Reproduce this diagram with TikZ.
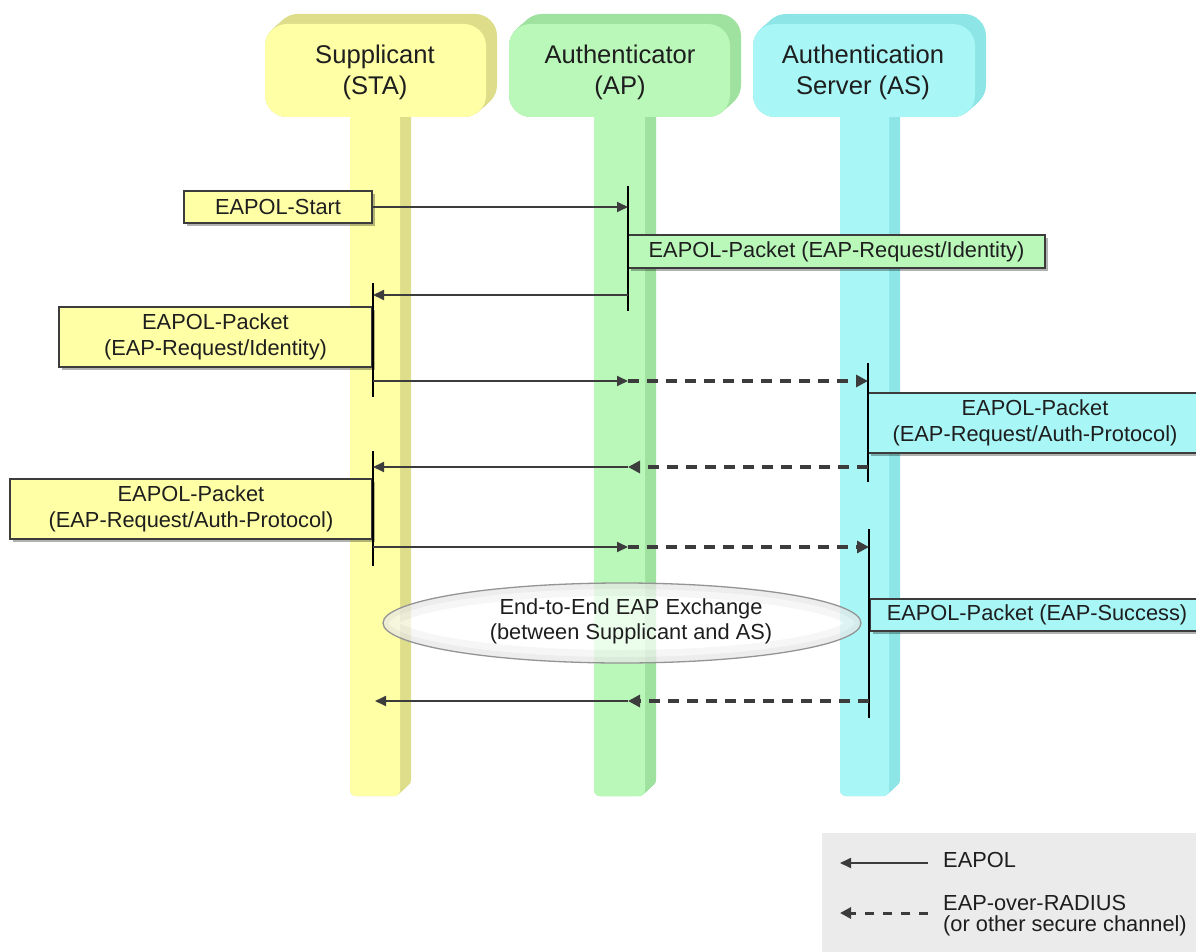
\documentclass[tikz,border=0pt]{standalone}
\usepackage{fontspec}
\setmainfont{Liberation Sans}
\usetikzlibrary{arrows.meta,shapes.geometric,shadows}
\definecolor{yface}{HTML}{FFFFA6}
\definecolor{ydark}{HTML}{DDDD8A}
\definecolor{gface}{HTML}{BAF8BA}
\definecolor{gdark}{HTML}{9FE19F}
\definecolor{cface}{HTML}{A8F6F6}
\definecolor{cdark}{HTML}{8DE5E5}
\definecolor{lgray}{HTML}{EBEBEB}
\definecolor{ink}{HTML}{1E1E1E}
\definecolor{lineC}{HTML}{3C3C3C}
\begin{document}
\begin{tikzpicture}[x=1pt,y=-1pt,
  hdr/.style={align=center, font=\fontsize{25.6}{31}\selectfont, text=ink, inner sep=0pt},
  msgbox/.style={draw=lineC, line width=1.5pt, font=\fontsize{21.8}{26}\selectfont, text=ink,
    align=center, inner sep=0pt,
    drop shadow={shadow xshift=3pt, shadow yshift=-3pt, opacity=0.3, fill=black}},
  sline/.style={draw=lineC, line width=1.8pt, -{Triangle[length=11pt,width=10pt]}},
  dline/.style={draw=lineC, line width=3.2pt, dash pattern=on 11pt off 8pt, -{Triangle[length=12pt,width=12pt]}},
  legdash/.style={draw=lineC, line width=3pt, dash pattern=on 9pt off 9pt, -{Triangle[length=11pt,width=11pt]}},
  tickline/.style={draw=black, line width=2pt},
  legtext/.style={font=\fontsize{21.8}{21}\selectfont, text=ink, inner sep=0pt, align=left},
  e2etext/.style={font=\fontsize{21.8}{25}\selectfont, text=ink, inner sep=0pt, align=center}
]
\useasboundingbox (0,0) rectangle (1196,952);
\fill[white] (0,0) rectangle (1196,952);

% ---- extruded (dark) sides of headers and lifelines
\foreach \s in {0,0.5,...,11} {
  \begin{scope}[shift={({\s},{-\s*10/11})}]
    \fill[ydark, rounded corners=22pt] (265,24) rectangle (486,117);
    \fill[ydark, rounded corners=6pt] (350,100) rectangle (400,796);
    \fill[gdark, rounded corners=22pt] (509,24) rectangle (730,117);
    \fill[gdark, rounded corners=6pt] (594,100) rectangle (645,796);
    \fill[cdark, rounded corners=22pt] (753,24) rectangle (975,117);
    \fill[cdark, rounded corners=6pt] (840,100) rectangle (889,796);
  \end{scope}
}
% ---- faces
\fill[yface, rounded corners=6pt] (350,100) rectangle (400,796);
\fill[gface, rounded corners=6pt] (594,100) rectangle (645,796);
\fill[cface, rounded corners=6pt] (840,100) rectangle (889,796);
\fill[yface, rounded corners=22pt] (265,24) rectangle (486,117);
\fill[gface, rounded corners=22pt] (509,24) rectangle (730,117);
\fill[cface, rounded corners=22pt] (753,24) rectangle (975,117);

\node[hdr] (sta) at (375,72) {Supplicant\\(STA)};
\node[hdr] (ap) at (620,72) {Authenticator\\(AP)};
\node[hdr] (as) at (863,72) {Authentication\\Server (AS)};

% ---- end-to-end ellipse
\node[ellipse, fill=white, fill opacity=0.72, inner sep=0pt, minimum width=478pt, minimum height=80pt] (e2e) at (622,623) {};
\begin{scope}
  \clip (e2e.center) ellipse (239 and 40);
  \draw[black, opacity=0.035, line width=26pt] (e2e.center) ellipse (239 and 40);
  \draw[black, opacity=0.035, line width=12pt] (e2e.center) ellipse (239 and 40);
\end{scope}
\draw[black!42, line width=1.3pt] (e2e.center) ellipse (239 and 40);
\node[e2etext] (e2elabel) at (631,621) {End-to-End EAP Exchange\\(between Supplicant and AS)};

% ---- message boxes
\node[msgbox, fill=yface, minimum width=188pt, minimum height=32pt] (start) at (278,207) {EAPOL-Start};
\node[msgbox, fill=gface, minimum width=417pt, minimum height=33pt] (reqidAP) at (836.5,251.5) {EAPOL-Packet (EAP-Request/Identity)};
\node[msgbox, fill=yface, minimum width=313pt, minimum height=60pt] (reqidSTA) at (215.5,337) {EAPOL-Packet\\(EAP-Request/Identity)};
\node[msgbox, fill=cface, minimum width=334pt, minimum height=60pt] (authAS) at (1035,423) {EAPOL-Packet\\(EAP-Request/Auth-Protocol)};
\node[msgbox, fill=yface, minimum width=362pt, minimum height=60pt] (authSTA) at (191,509) {EAPOL-Packet\\(EAP-Request/Auth-Protocol)};
\node[msgbox, fill=cface, minimum width=334pt, minimum height=32pt] (succAS) at (1037,615) {EAPOL-Packet (EAP-Success)};

% ---- activation ticks
\coordinate (apT1) at (628,186);  \coordinate (apB1) at (628,311);
\coordinate (stT2) at (373,283);  \coordinate (stB2) at (373,397);
\coordinate (asT3) at (868,363);  \coordinate (asB3) at (868,482);
\coordinate (stT4) at (373,451);  \coordinate (stB4) at (373,566);
\coordinate (asT5) at (869,529);  \coordinate (asB5) at (869,718);
\draw[tickline] (apT1) -- (apB1);
\draw[tickline] (stT2) -- (stB2);
\draw[tickline] (asT3) -- (asB3);
\draw[tickline] (stT4) -- (stB4);
\draw[tickline] (asT5) -- (asB5);

% ---- arrows
\coordinate (a1) at (628,207);
\draw[sline] (start.east) -- (a1);

\coordinate (a2) at (628,295); \coordinate (s2) at (373,295);
\draw[sline] (a2) -- (s2);

\coordinate (s3) at (373,381); \coordinate (a3) at (628,381); \coordinate (as3) at (868,381);
\draw[sline] (s3) -- (a3);
\draw[dline] (a3) -- (as3);

\coordinate (as4) at (868,467); \coordinate (a4) at (628,467); \coordinate (s4) at (373,467);
\draw[dline] (as4) -- (a4);
\draw[sline] (a4) -- (s4);

\coordinate (s5) at (373,547); \coordinate (a5) at (628,547); \coordinate (as5) at (869,547);
\draw[sline] (s5) -- (a5);
\draw[dline] (a5) -- (as5);

\coordinate (as6) at (869,701); \coordinate (a6) at (628,701); \coordinate (s6) at (375,701);
\draw[dline] (as6) -- (a6);
\draw[sline] (a6) -- (s6);

% ---- legend
\node[fill=lgray, inner sep=0pt, minimum width=380pt, minimum height=125pt, anchor=north west] (legend) at (822,833) {};
\coordinate (l1a) at (928,863); \coordinate (l1b) at (840,863);
\draw[sline] (l1a) -- (l1b);
\node[legtext, anchor=west] (l1t) at (943,860) {EAPOL};
\coordinate (l2a) at (928,913); \coordinate (l2b) at (840,913);
\draw[legdash] (l2a) -- (l2b);
\node[legtext, anchor=north west] (l2t) at (943,895) {EAP-over-RADIUS\\(or other secure channel)};
\end{tikzpicture}
\end{document}
